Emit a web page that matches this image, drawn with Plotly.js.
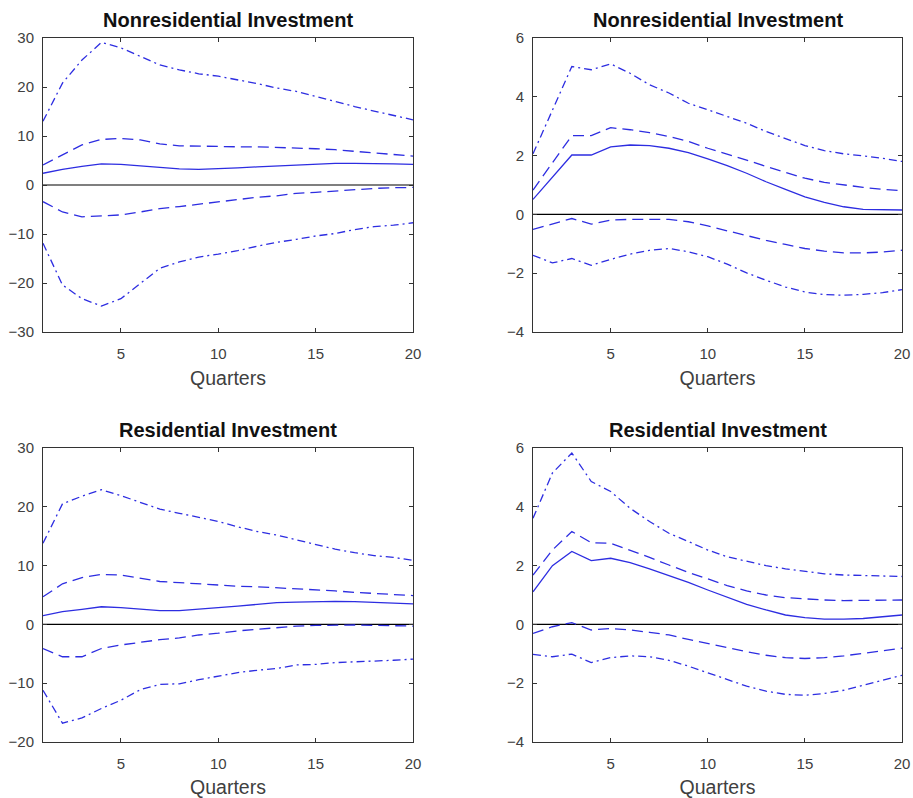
<!DOCTYPE html>
<html>
<head>
<meta charset="utf-8">
<script src="https://cdn.plot.ly/plotly-3.0.1.min.js"></script>
<style>
  html, body { margin: 0; padding: 0; background: #fff; }
  #chart { width: 913px; height: 798px; }
</style>
</head>
<body>
<div id="chart"></div>
<script>
// Impulse responses over 20 quarters: median with inner and outer bands
const quarters = [1,2,3,4,5,6,7,8,9,10,11,12,13,14,15,16,17,18,19,20];

// Panel 1: Nonresidential Investment (left)
const nonresA_mid   = [2.4,3.2,3.8,4.3,4.2,3.9,3.5,3.3,3.2,3.3,3.5,3.7,3.9,4.1,4.3,4.4,4.4,4.4,4.3,4.2];
const nonresA_hi68  = [4.1,6.1,8.2,9.3,9.5,9.2,8.4,8.0,7.9,7.8,7.8,7.8,7.7,7.6,7.4,7.2,6.9,6.6,6.2,5.9];
const nonresA_lo68  = [-3.4,-5.5,-6.5,-6.3,-6.1,-5.5,-4.8,-4.4,-3.9,-3.4,-2.9,-2.5,-2.2,-1.7,-1.5,-1.2,-0.9,-0.7,-0.55,-0.5];
const nonresA_hi90  = [13.0,20.8,25.5,29.1,28.0,26.2,24.5,23.5,22.7,22.2,21.5,20.7,19.8,19.1,18.1,17.0,16.0,15.1,14.2,13.3];
const nonresA_lo90  = [-11.9,-20.4,-23.2,-24.7,-23.2,-20.1,-17.0,-15.7,-14.7,-14.1,-13.4,-12.5,-11.7,-11.1,-10.4,-9.9,-9.1,-8.5,-8.2,-7.7];

// Panel 2: Nonresidential Investment (right)
const nonresB_mid   = [0.51,1.25,2.02,2.02,2.3,2.36,2.34,2.25,2.1,1.89,1.66,1.4,1.11,0.85,0.6,0.41,0.26,0.17,0.15,0.15];
const nonresB_hi68  = [0.83,1.77,2.68,2.68,2.95,2.88,2.78,2.65,2.48,2.25,2.06,1.85,1.63,1.42,1.23,1.09,1.0,0.92,0.85,0.81];
const nonresB_lo68  = [-0.51,-0.33,-0.14,-0.33,-0.19,-0.17,-0.16,-0.17,-0.25,-0.39,-0.56,-0.73,-0.88,-1.02,-1.16,-1.25,-1.31,-1.31,-1.28,-1.22];
const nonresB_hi90  = [2.06,3.56,5.03,4.92,5.12,4.8,4.41,4.13,3.78,3.56,3.33,3.1,2.82,2.59,2.34,2.17,2.06,1.99,1.91,1.8];
const nonresB_lo90  = [-1.39,-1.65,-1.5,-1.73,-1.53,-1.35,-1.22,-1.16,-1.27,-1.44,-1.69,-1.99,-2.24,-2.47,-2.64,-2.73,-2.75,-2.72,-2.66,-2.56];

// Panel 3: Residential Investment (left)
const resA_mid   = [1.48,2.16,2.56,3.0,2.84,2.56,2.33,2.33,2.56,2.84,3.1,3.4,3.7,3.8,3.9,3.9,3.86,3.75,3.64,3.5];
const resA_hi68  = [4.7,6.9,7.95,8.5,8.4,7.8,7.3,7.1,6.9,6.6,6.5,6.4,6.25,6.0,5.85,5.7,5.45,5.3,5.1,4.9];
const resA_lo68  = [-4.1,-5.5,-5.5,-4.1,-3.5,-3.0,-2.6,-2.3,-1.8,-1.5,-1.1,-0.85,-0.57,-0.28,-0.17,-0.1,-0.1,-0.17,-0.23,-0.28];
const resA_hi90  = [13.8,20.5,21.8,22.9,21.9,20.7,19.6,18.9,18.2,17.5,16.6,15.8,15.2,14.4,13.5,12.8,12.2,11.7,11.4,10.9];
const resA_lo90  = [-11.2,-16.8,-15.9,-14.3,-12.9,-11.1,-10.2,-10.1,-9.4,-8.75,-8.2,-7.8,-7.5,-6.9,-6.8,-6.5,-6.4,-6.2,-6.1,-5.9];

// Panel 4: Residential Investment (right)
const resB_mid   = [1.11,2.0,2.48,2.17,2.25,2.1,1.89,1.66,1.43,1.17,0.92,0.68,0.49,0.32,0.23,0.18,0.18,0.2,0.26,0.32];
const resB_hi68  = [1.68,2.53,3.16,2.78,2.76,2.53,2.28,2.02,1.77,1.55,1.32,1.14,1.0,0.91,0.86,0.83,0.81,0.82,0.83,0.83];
const resB_lo68  = [-0.31,-0.08,0.06,-0.19,-0.14,-0.19,-0.27,-0.36,-0.51,-0.65,-0.8,-0.93,-1.05,-1.13,-1.16,-1.13,-1.07,-0.99,-0.9,-0.81];
const resB_hi90  = [3.61,5.15,5.83,4.86,4.52,3.95,3.5,3.1,2.82,2.53,2.3,2.14,2.0,1.89,1.8,1.72,1.68,1.66,1.63,1.63];
const resB_lo90  = [-1.02,-1.1,-1.01,-1.3,-1.13,-1.07,-1.1,-1.22,-1.42,-1.64,-1.88,-2.1,-2.27,-2.38,-2.41,-2.35,-2.24,-2.07,-1.9,-1.73];

const panelTitles = ['Nonresidential Investment','Nonresidential Investment','Residential Investment','Residential Investment'];
const xTitle = 'Quarters';
const xTicks = [5,10,15,20];
const yTicksWide = [-30,-20,-10,0,10,20,30];
const yTicksResWide = [-20,-10,0,10,20,30];
const yTicksNarrow = [-4,-2,0,2,4,6];

const panels = [
  {mid: nonresA_mid, hi68: nonresA_hi68, lo68: nonresA_lo68, hi90: nonresA_hi90, lo90: nonresA_lo90, yr: [-30,30], yt: yTicksWide},
  {mid: nonresB_mid, hi68: nonresB_hi68, lo68: nonresB_lo68, hi90: nonresB_hi90, lo90: nonresB_lo90, yr: [-4,6], yt: yTicksNarrow},
  {mid: resA_mid, hi68: resA_hi68, lo68: resA_lo68, hi90: resA_hi90, lo90: resA_lo90, yr: [-20,30], yt: yTicksResWide},
  {mid: resB_mid, hi68: resB_hi68, lo68: resB_lo68, hi90: resB_hi90, lo90: resB_lo90, yr: [-4,6], yt: yTicksNarrow}
];

const W = 913, H = 798;
const xDomains = [[43/W, 413/W], [533/W, 902/W], [43/W, 413/W], [533/W, 902/W]];
const yDomains = [[1-332/H, 1-38/H], [1-332/H, 1-38/H], [1-742/H, 1-448/H], [1-742/H, 1-448/H]];

const blue = 'rgb(45,45,225)';
const axisColor = '#333333';
const fontFam = 'Liberation Sans, Arial, sans-serif';
const tickFont = {family: fontFam, size: 15, color: '#404040'};

const traces = [];
const layout = {
  width: W, height: H,
  margin: {l: 0, r: 0, t: 0, b: 0},
  paper_bgcolor: '#ffffff',
  plot_bgcolor: '#ffffff',
  showlegend: false,
  annotations: []
};

panels.forEach((p, i) => {
  const n = i + 1;
  const xa = 'x' + (n === 1 ? '' : n);
  const ya = 'y' + (n === 1 ? '' : n);
  const series = [
    [p.hi90, 'dashdot'], [p.hi68, 'dash'], [p.mid, 'solid'], [p.lo68, 'dash'], [p.lo90, 'dashdot']
  ];
  // zero reference line on the same axes
  traces.push({x: [quarters[0], quarters[quarters.length-1]], y: [0, 0], xaxis: xa, yaxis: ya,
    mode: 'lines', line: {color: '#000000', width: 1.2}, hoverinfo: 'skip'});
  series.forEach(([vals, dash]) => {
    traces.push({x: quarters, y: vals, xaxis: xa, yaxis: ya, mode: 'lines',
      line: {color: blue, width: 1.3, dash: dash === 'dashdot' ? '8px,4px,2px,4px' : (dash === 'dash' ? '11px,6px' : 'solid')}});
  });

  layout['xaxis' + (n === 1 ? '' : n)] = {
    domain: xDomains[i], anchor: ya, range: [1, 20],
    tickvals: xTicks, ticks: 'inside', ticklen: 4, tickcolor: axisColor,
    showline: true, linecolor: axisColor, linewidth: 1, mirror: 'ticks',
    showgrid: false, zeroline: false, tickfont: tickFont, ticklabelstandoff: 8,
    title: {text: xTitle, font: {family: fontFam, size: 19.5, color: '#404040'}, standoff: 10}
  };
  layout['yaxis' + (n === 1 ? '' : n)] = {
    domain: yDomains[i], anchor: xa, range: p.yr,
    tickvals: p.yt, ticks: 'inside', ticklen: 4, tickcolor: axisColor,
    showline: true, linecolor: axisColor, linewidth: 1, mirror: 'ticks',
    showgrid: false, zeroline: false, tickfont: tickFont, ticklabelstandoff: 5
  };
  layout.annotations.push({
    text: '<b>' + panelTitles[i] + '</b>', xref: 'paper', yref: 'paper',
    x: (xDomains[i][0] + xDomains[i][1]) / 2, y: yDomains[i][1] + 5/H,
    xanchor: 'center', yanchor: 'bottom', showarrow: false,
    font: {family: fontFam, size: 20, color: '#111111'}
  });
});

Plotly.newPlot('chart', traces, layout, {staticPlot: true, displayModeBar: false});
</script>
</body>
</html>
